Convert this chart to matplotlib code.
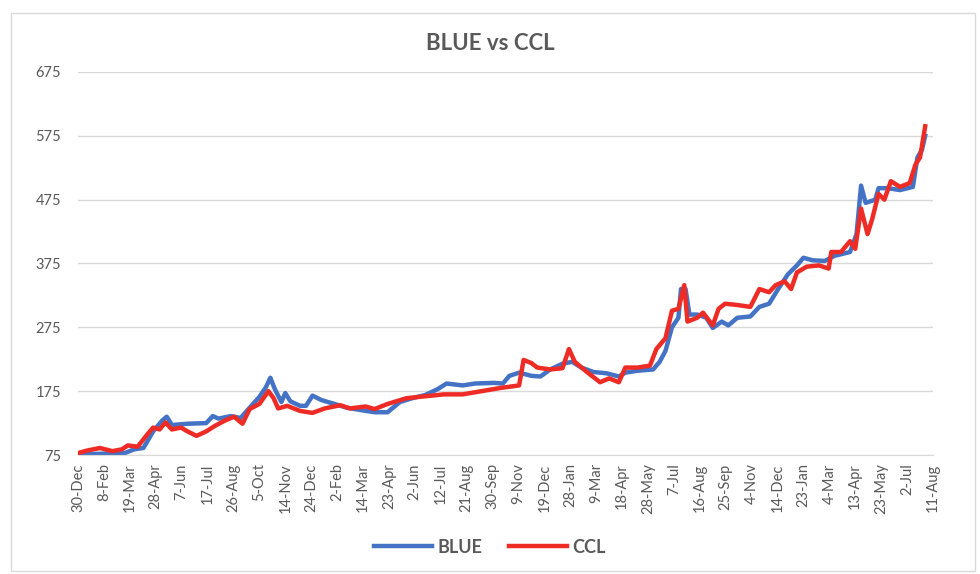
import matplotlib

matplotlib.use("Agg")
import matplotlib.pyplot as plt
import pandas as pd
from matplotlib.patches import Rectangle

START = pd.Timestamp("2019-12-30")

# days since 30-Dec-2019
blue_days = [0, 72, 87, 101, 116, 130, 137, 145, 169, 198, 208, 217, 236, 251, 265, 280, 290, 297,
             304, 314, 320, 328, 343, 352, 362, 376, 396, 415, 439, 458, 478, 497, 516, 536, 555,
             569, 594, 613, 642, 656, 666, 681, 700, 714, 729, 748, 763, 777, 796, 816, 835, 845,
             864, 888, 898, 907, 917, 927, 931, 938, 944, 956, 970, 980, 994, 1004, 1018, 1038,
             1052, 1067, 1081, 1096, 1110, 1120, 1134, 1153, 1168, 1192, 1202, 1209, 1216, 1231,
             1236, 1250, 1269, 1289, 1296, 1303, 1308]
blue = [76, 78, 84, 86, 112, 129, 135, 122, 124, 125, 136, 132, 136, 133, 149, 166, 181, 196,
        178, 158, 172, 159, 152, 152, 168, 161, 155, 149, 145, 142, 142, 158, 164, 169, 178,
        187, 184, 187, 188, 187, 199, 204, 199, 198, 209, 218, 221, 212, 205, 203, 198, 204,
        207, 209, 221, 238, 275, 290, 335, 335, 295, 295, 290, 274, 284, 278, 290, 292,
        307, 312, 335, 358, 372, 384, 380, 379, 387, 393, 421, 497, 470, 475,
        493, 493, 490, 495, 541, 553, 575]

ccl_days = [0, 14, 34, 53, 68, 77, 92, 106, 116, 126, 135, 145, 159, 169, 183, 198, 212, 227,
            241, 254, 265, 280, 294, 302, 309, 323, 343, 362, 381, 405, 420, 444, 458, 478, 507,
            536, 565, 594, 623, 652, 681, 688, 700, 709, 729, 748, 758, 767, 787, 806, 820, 835,
            845, 864, 883, 893, 907, 917, 927, 936, 941, 956, 965, 980, 989, 999, 1018, 1038,
            1052, 1067, 1077, 1091, 1101, 1110, 1125, 1144, 1159, 1163, 1178, 1192, 1200, 1209,
            1219, 1226, 1236, 1245, 1255, 1269, 1284, 1293, 1300, 1308]
ccl = [78, 82, 86, 81, 84, 90, 88, 106, 118, 115, 126, 115, 118, 112, 105, 112, 121, 129,
       135, 124, 147, 155, 175, 164, 148, 152, 144, 141, 148, 153, 148, 151, 147, 155, 164,
       167, 170, 170, 175, 180, 184, 224, 219, 212, 209, 211, 241, 221, 204, 189, 195, 189,
       212, 212, 215, 241, 258, 301, 304, 341, 284, 290, 298, 278, 304, 312, 310, 307,
       335, 330, 341, 347, 335, 361, 370, 372, 367, 393, 393, 410, 398, 461,
       421, 444, 484, 475, 504, 495, 501, 530, 541, 590]

tick_count = 34
tick_step_days = 40

BLUE_C = "#4472c4"
RED_C = "#ee2b24"
TXT = "#595959"
GRID = "#d9d9d9"

plt.rcParams["font.family"] = ["Lato", "DejaVu Sans"]

fig = plt.figure(figsize=(9.8, 5.74), dpi=100)
ax = fig.add_axes([0.0796, 0.2073, 0.8724, 0.6673])

blue_x = START + pd.to_timedelta(blue_days, unit="D")
ccl_x = START + pd.to_timedelta(ccl_days, unit="D")
ax.plot(blue_x, blue, color=BLUE_C, lw=3.2, label="BLUE", solid_joinstyle="round")
ax.plot(ccl_x, ccl, color=RED_C, lw=3.2, label="CCL", solid_joinstyle="round")

ticks = pd.date_range(START, periods=tick_count, freq=f"{tick_step_days}D")
ax.set_xticks(ticks)
ax.set_xticklabels([f"{d.day}-{d.strftime('%b')}" for d in ticks], rotation=90,
                   fontsize=10.5, color=TXT)
ax.set_xlim(ticks[0], ticks[-1])
ax.set_ylim(75, 675)
ax.set_yticks(range(75, 676, 100))
ax.tick_params(axis="y", labelsize=10.5, labelcolor=TXT, length=0, pad=12)
ax.tick_params(axis="x", length=0, pad=6)
ax.grid(axis="y", color=GRID, lw=1)
ax.set_axisbelow(True)
for s in ["top", "right", "left"]:
    ax.spines[s].set_visible(False)
ax.spines["bottom"].set_color(GRID)

fig.text(0.5, 0.925, "BLUE vs CCL", ha="center", va="center", fontsize=16,
         fontweight="bold", color=TXT)

leg = fig.legend(loc="center", bbox_to_anchor=(0.5, 0.047), ncol=2, frameon=False,
                 handlelength=3.2, handletextpad=0.3, columnspacing=1.5,
                 prop={"size": 13, "weight": "bold"})
for t in leg.get_texts():
    t.set_color(TXT)

fig.add_artist(Rectangle((0.011, 0.005), 0.984, 0.972, transform=fig.transFigure,
                         fill=False, edgecolor=GRID, lw=1))

fig.savefig("out.png", dpi=100, facecolor="white")
